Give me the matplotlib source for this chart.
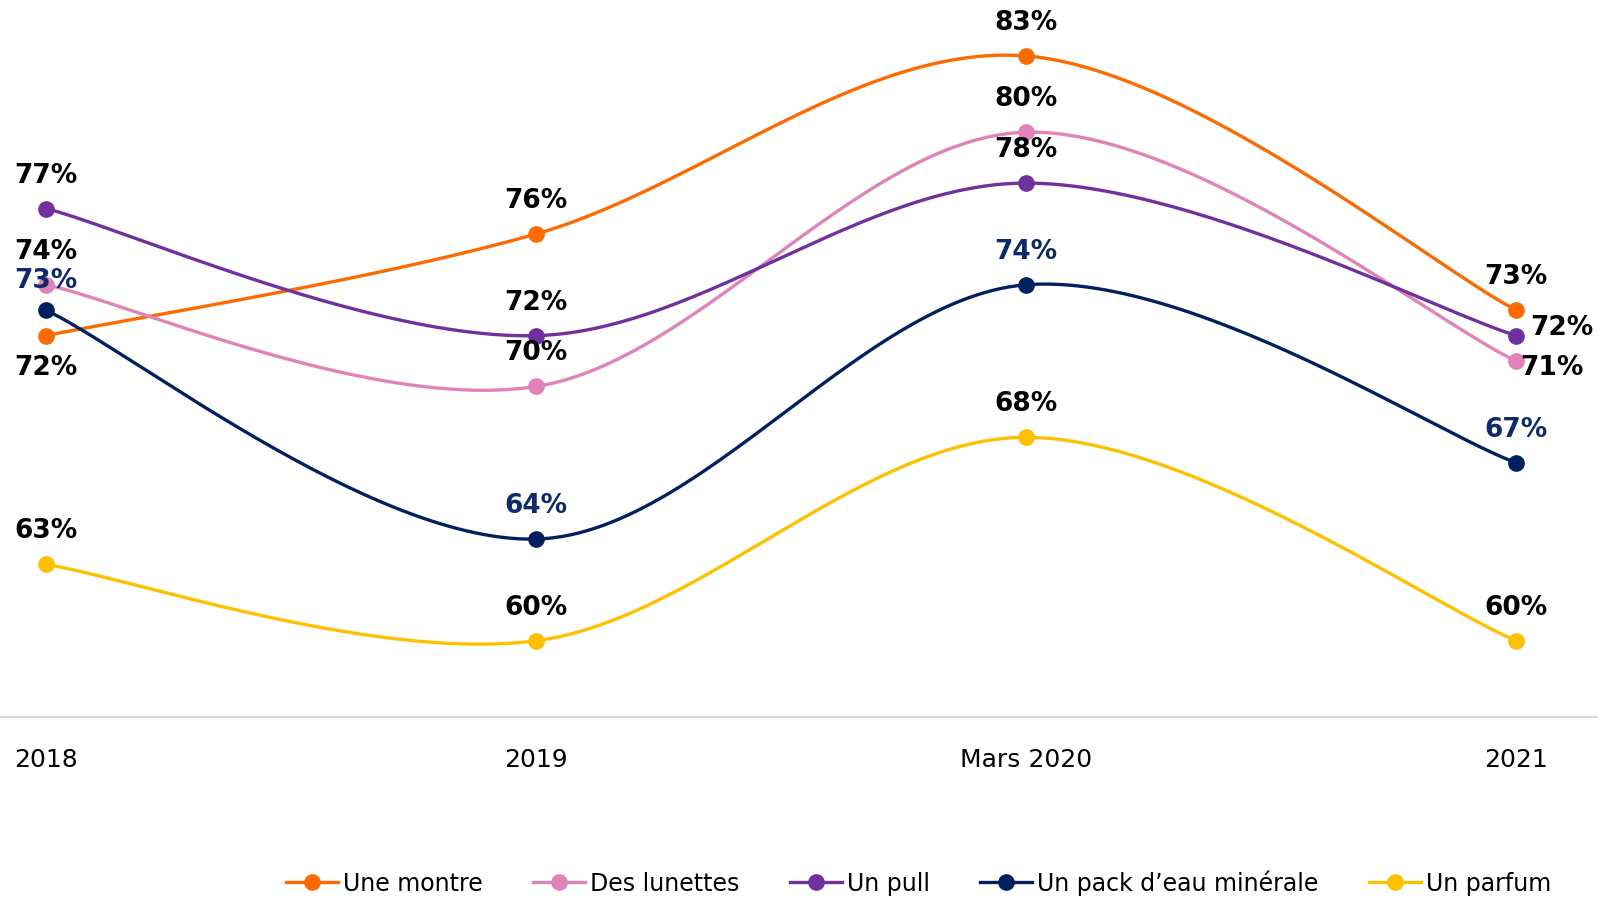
import numpy as np
import matplotlib
matplotlib.use("Agg")
import matplotlib.pyplot as plt

categories = ["2018", "2019", "Mars 2020", "2021"]
montre = [72, 76, 83, 73]
lunettes = [74, 70, 80, 71]
pull = [77, 72, 78, 72]
eau = [73, 64, 74, 67]
parfum = [63, 60, 68, 60]

names = ["Une montre", "Des lunettes", "Un pull", "Un pack d\u2019eau minérale", "Un parfum"]
colors = ["#FF6A00", "#E083B8", "#7030A0", "#00205F", "#FFC000"]
label_colors = ["black", "black", "black", "#0E2A6B", "black"]
# label placement per point: (dx px, dy px)
offsets = [
    [(0, -32), (0, 33), (0, 33), (0, 33)],
    [(0, 33), (0, 33), (0, 33), (36, -7)],
    [(0, 33), (0, 33), (0, 33), (46, 8)],
    [(0, 29), (0, 33), (0, 33), (0, 33)],
    [(0, 33), (0, 33), (0, 33), (0, 33)],
]


def smooth(xs, ys, n=60):
    # catmull-rom style smoothing like excel
    xs = np.asarray(xs, float)
    ys = np.asarray(ys, float)
    px = np.concatenate([[xs[0]], xs, [xs[-1]]])
    py = np.concatenate([[ys[0]], ys, [ys[-1]]])
    ox, oy = [], []
    for i in range(1, len(px) - 2):
        p0 = np.array([px[i], py[i]])
        p3 = np.array([px[i + 1], py[i + 1]])
        c1 = p0 + (p3 - np.array([px[i - 1], py[i - 1]])) / 6
        c2 = p3 - (np.array([px[i + 2], py[i + 2]]) - p0) / 6
        t = np.linspace(0, 1, n)[:, None]
        b = (1 - t) ** 3 * p0 + 3 * (1 - t) ** 2 * t * c1 + 3 * (1 - t) * t ** 2 * c2 + t ** 3 * p3
        ox.extend(b[:, 0])
        oy.extend(b[:, 1])
    return ox, oy


fig = plt.figure(figsize=(15.98, 8.99), dpi=100)
ax = fig.add_axes([0, 0.2024, 1, 0.7976])

x = np.arange(len(categories))
series = [montre, lunettes, pull, eau, parfum]
for vals, name, col, lc, offs in zip(series, names, colors, label_colors, offsets):
    sx, sy = smooth(x, vals)
    ax.plot(sx, sy, color=col, lw=2.4, zorder=2)
    ax.plot(x, vals, "o", color=col, ms=11, zorder=3)
    ax.plot([], [], "-o", color=col, lw=2.4, ms=11, label=name)
    for xi, v, (dx, dy) in zip(x, vals, offs):
        ax.annotate(f"{v}%", (xi, v), xytext=(dx * 0.72, dy * 0.72), textcoords="offset points",
                    ha="center", va="center", fontsize=19, fontweight="bold", color=lc, zorder=4)

ax.set_xlim(-0.0939, 3.167)
ax.set_ylim(57, 85.2)
ax.set_yticks([])
ax.set_xticks(x)
ax.set_xticklabels(categories, fontsize=18)
ax.tick_params(axis="x", length=0, pad=22)
for s in ["top", "left", "right"]:
    ax.spines[s].set_visible(False)
ax.spines["bottom"].set_color("#D9D9D9")
ax.spines["bottom"].set_linewidth(1.5)

fig.legend(loc="lower right", bbox_to_anchor=(0.984, -0.02), ncol=5, frameon=False,
           fontsize=17, handlelength=2.2, handletextpad=0.2, columnspacing=2.15)

fig.savefig("out.png", dpi=100)
